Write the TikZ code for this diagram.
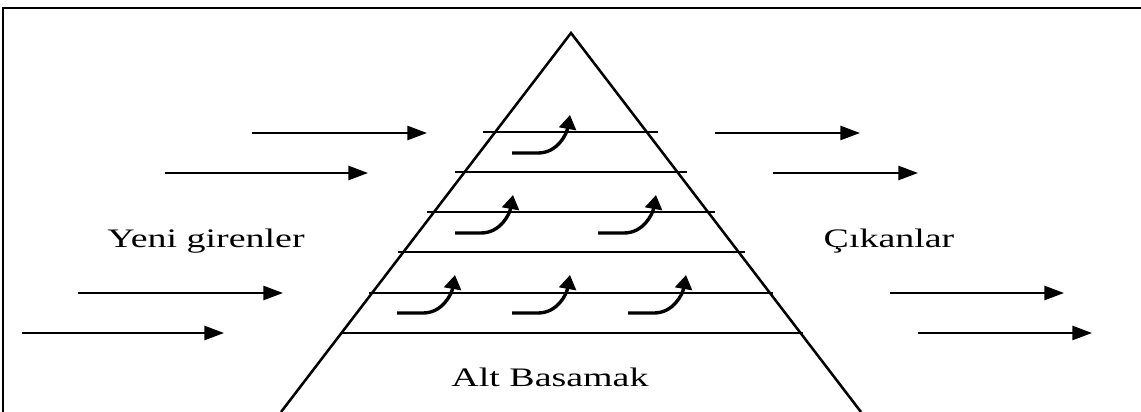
\documentclass[tikz,border=0pt]{standalone}
\usepackage{fontspec}
\setmainfont{Liberation Serif}
\usetikzlibrary{arrows.meta}
\tikzset{
  >=Stealth,
  frame/.style = {line width=1.8pt},
  edge/.style  = {line width=1.8pt, line join=miter},
  level/.style = {line width=1.8pt},
  flow/.style  = {-{Triangle[length=14pt, width=10pt]}, line width=1.7pt},
  rise/.style  = {-{Triangle[length=10pt, width=12pt]}, line width=2.4pt},
  lbl/.style   = {font=\fontsize{19}{22}\selectfont, xscale=1.42,
                  inner sep=0pt, anchor=base},
}
\begin{document}
\begin{tikzpicture}[x=0.025cm, y=-0.025cm]
  \useasboundingbox (0,0) rectangle (1141,412);

  % frame
  \coordinate (fl) at (3,412);
  \coordinate (tl) at (3,8);
  \coordinate (tr) at (1141,8);
  \draw[frame] (fl) -- (tl) -- (tr);

  % pyramid
  \coordinate (apex) at (571,33);
  \coordinate (bl)   at (281,412);
  \coordinate (br)   at (861,412);
  \draw[edge] (bl) -- (apex) -- (br);

  % levels
  \foreach \y/\xa/\xb [count=\i] in {132/483/658, 172/455/687, 212/427/715,
                                    252/398/745, 293/369/773, 333/341/803}
    \draw[level] (\xa,\y) coordinate (l\i a) -- (\xb,\y) coordinate (l\i b);

  % moving up
  \foreach \x/\y in {512/153, 455/233, 598/233, 397/313, 512/313, 628/313}
    \draw[rise] (\x,\y) -- ++(26,0) to[out=0, in=-100] ++(32,-38);

  % entering
  \foreach \xa/\xb/\y in {252/427/133, 165/368/173, 78/283/293, 22/224/333}
    \draw[flow] (\xa,\y) coordinate (in a) -- (\xb,\y) coordinate (in b);

  % leaving
  \foreach \xa/\xb/\y in {715/860/133, 773/918/173, 890/1064/293, 918/1092/333}
    \draw[flow] (\xa,\y) coordinate (out a) -- (\xb,\y) coordinate (out b);

  \node[lbl] (new)  at (206,247) {Yeni girenler};
  \node[lbl] (gone) at (889,247) {Çıkanlar};
  \node[lbl] (base) at (550,386) {Alt Basamak};
\end{tikzpicture}
\end{document}
